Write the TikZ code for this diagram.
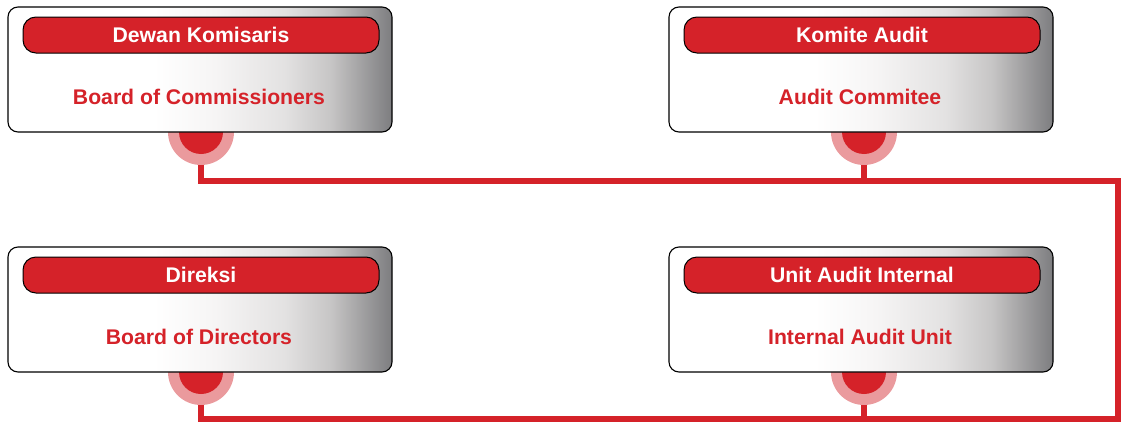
\documentclass[tikz,border=0pt]{standalone}
\usepackage{fontspec}
\setmainfont{Liberation Sans}
\definecolor{myred}{HTML}{D52229}
\definecolor{mypink}{HTML}{EA9A9D}
\pgfdeclarehorizontalshading{boxshade}{100bp}{rgb(0bp)=(1,1,1); rgb(44bp)=(1,1,1); rgb(52bp)=(0.965,0.96,0.96); rgb(61bp)=(0.89,0.885,0.885); rgb(67bp)=(0.78,0.775,0.775); rgb(75bp)=(0.49,0.49,0.5); rgb(100bp)=(0.49,0.49,0.5)}
\tikzset{
  box/.style={draw=black, line width=1.1pt, rounded corners=10pt, shading=boxshade, minimum width=384pt, minimum height=125pt, inner sep=0pt},
  titlebar/.style={draw=black, line width=1pt, fill=myred, rounded corners=13pt, minimum width=356pt, minimum height=36pt, inner sep=0pt, text=white, font=\fontsize{21.2}{24}\selectfont\bfseries},
  sublabel/.style={text=myred, font=\fontsize{21.2}{24}\selectfont\bfseries, inner sep=0pt},
  conn/.style={draw=myred, line width=5.5pt},
  outerdot/.style={fill=mypink},
  innerdot/.style={fill=myred}
}
\begin{document}
\begin{tikzpicture}[x=1pt,y=-1pt]
\useasboundingbox (0,0) rectangle (1121,423);
% anchor coordinates
\coordinate (d1) at (201,132);
\coordinate (d2) at (864,132);
\coordinate (d3) at (201,372);
\coordinate (d4) at (864,372);
\coordinate (tr) at (1118,181);
\coordinate (br) at (1118,419);
% connectors
\draw[conn] (d1) |- (tr) -- (br) -| (d3);
\draw[conn] (d2) -- (d2 |- tr);
\draw[conn] (d4) -- (d4 |- br);
% dots
\foreach \d in {d1,d2,d3,d4}{
  \fill[outerdot] (\d) circle (33);
  \fill[innerdot] (\d) circle (22);
}
% boxes
\node[box] (b1) at (200,69.5) {};
\node[box] (b2) at (861,69.5) {};
\node[box] (b3) at (200,309.5) {};
\node[box] (b4) at (861,309.5) {};
\node[titlebar] (t1) at (201,35) {Dewan Komisaris};
\node[titlebar] (t2) at (862,35) {Komite Audit};
\node[titlebar] (t3) at (201,275) {Direksi};
\node[titlebar] (t4) at (862,275) {Unit Audit Internal};
\node[sublabel] (l1) at (199,97) {Board of Commissioners};
\node[sublabel] (l2) at (860,97) {Audit Commitee};
\node[sublabel] (l3) at (199,337) {Board of Directors};
\node[sublabel] (l4) at (860,337) {Internal Audit Unit};
\end{tikzpicture}
\end{document}
